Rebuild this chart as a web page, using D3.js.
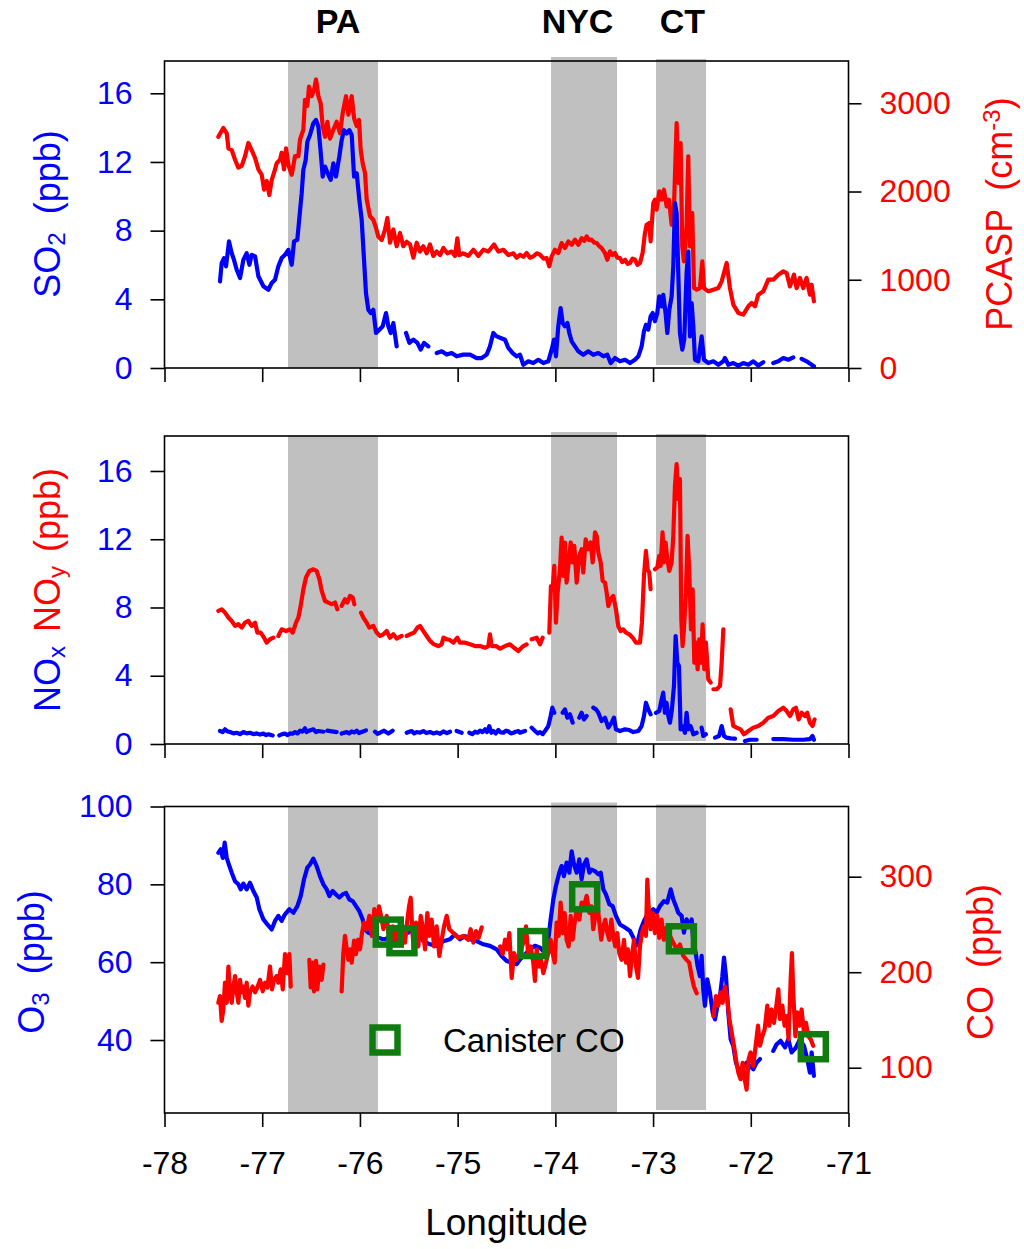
<!DOCTYPE html>
<html>
<head>
<meta charset="utf-8">
<script src="https://cdn.jsdelivr.net/npm/d3@7"></script>
<style>
  body { margin: 0; background: #fff; }
  svg { display: block; }
  text { font-family: "Liberation Sans", Arial, Helvetica, sans-serif; }
</style>
</head>
<body>
<svg id="chart" width="1024" height="1249"></svg>
<script>
// ---- axis ticks ----
const lonTicks = [-78, -77, -76, -75, -74, -73, -72, -71];
const so2Ticks = [0, 4, 8, 12, 16];
const pcaspTicks = [0, 1000, 2000, 3000];
const noTicks = [0, 4, 8, 12, 16];
const o3Ticks = [40, 60, 80, 100];
const coTicks = [100, 200, 300];

// ---- urban plume regions (longitude bounds) ----
const regionNames = ["PA", "NYC", "CT"];
const regionWest = [-76.736, -74.044, -72.970];
const regionEast = [-75.815, -73.369, -72.458];
const regionLabelLon = [-76.224, -73.773, -72.700];

// ---- flight data: [longitude, value]; null marks a data gap ----
const pcasp = [
  [-77.449,2620],[-77.398,2720],[-77.363,2660],[-77.346,2490],[-77.312,2470],[-77.278,2360],[-77.244,2270],[-77.210,2290],[-77.176,2400],[-77.142,2550],[-77.108,2470],[-77.073,2380],[-77.039,2250],[-77.005,2190],[-76.981,2020],[-76.954,2120],[-76.927,1960],[-76.903,2130],[-76.869,2250],[-76.852,2320],[-76.818,2360],[-76.801,2440],[-76.777,2250],[-76.756,2490],[-76.732,2300],[-76.698,2190],[-76.664,2400],[-76.630,2400],[-76.613,2590],[-76.579,2700],[-76.562,3040],[-76.538,2970],[-76.521,3190],[-76.494,3080],[-76.470,3150],[-76.449,3270],[-76.425,3080],[-76.402,3000],[-76.381,2740],[-76.357,2620],[-76.333,2790],[-76.306,2600],[-76.272,2700],[-76.238,2790],[-76.204,2660],[-76.176,2890],[-76.142,3080],[-76.118,2870],[-76.084,3080],[-76.060,2830],[-76.033,2740],[-76.009,2810],[-75.992,2470],[-75.972,2320],[-75.948,2210],[-75.931,1910],[-75.897,1720],[-75.863,1680],[-75.839,1600],[-75.812,1490],[-75.777,1450],[-75.743,1570],[-75.719,1700],[-75.692,1420],[-75.658,1570],[-75.624,1380],[-75.590,1530],[-75.556,1380],[-75.521,1430],[-75.487,1400],[-75.453,1250],[-75.419,1420],[-75.385,1320],[-75.351,1380],[-75.317,1300],[-75.283,1400],[-75.249,1270],[-75.215,1320],[-75.180,1280],[-75.146,1360],[-75.105,1300],[-75.061,1320],[-75.027,1270],[-75.003,1470],[-74.983,1280],[-74.942,1300],[-74.891,1270],[-74.839,1340],[-74.788,1270],[-74.737,1340],[-74.686,1320],[-74.628,1400],[-74.584,1320],[-74.532,1340],[-74.481,1280],[-74.430,1300],[-74.396,1250],
  [-74.362,1284],[-74.328,1260],[-74.294,1303],[-74.260,1250],[-74.226,1265],[-74.190,1300],[-74.157,1284],[-74.120,1240],[-74.089,1246],[-74.062,1152],[-74.038,1265],[-74.004,1340],[-73.970,1303],[-73.936,1416],[-73.902,1359],[-73.867,1435],[-73.833,1397],[-73.799,1454],[-73.765,1397],[-73.731,1472],[-73.705,1440],[-73.680,1491],[-73.655,1450],[-73.629,1454],[-73.600,1420],[-73.577,1416],[-73.550,1380],[-73.526,1359],[-73.492,1303],[-73.468,1227],[-73.441,1322],[-73.415,1280],[-73.390,1303],[-73.365,1250],[-73.339,1246],[-73.315,1200],[-73.287,1227],[-73.260,1180],[-73.236,1190],[-73.210,1240],[-73.185,1227],[-73.160,1170],[-73.134,1190],[-73.107,1303],[-73.083,1529],[-73.066,1624],[-73.039,1643],[-73.025,1435],[-72.998,1869],[-72.981,1907],[-72.964,1794],[-72.936,2001],[-72.912,1907],[-72.889,2020],[-72.861,1832],[-72.837,1907],[-72.810,1624],[-72.786,1832],[-72.759,2775],[-72.738,2096],[-72.718,2549],[-72.701,1378],[-72.684,1209],[-72.657,1605],[-72.640,2398],[-72.622,1378],[-72.599,1756],[-72.581,906],[-72.554,888],[-72.520,906],[-72.496,1209],[-72.479,906],[-72.435,869],[-72.383,888],[-72.332,906],[-72.298,982],[-72.247,1190],[-72.213,906],[-72.179,718],[-72.128,624],[-72.077,605],[-72.025,699],[-71.991,737],[-71.957,699],[-71.923,831],[-71.872,869],[-71.821,1001],[-71.770,1001],[-71.718,1058],[-71.667,1095],[-71.633,1076],[-71.599,925],[-71.558,1058],[-71.531,906],[-71.497,1020],[-71.463,906],[-71.429,1020],[-71.395,831],[-71.377,944],[-71.354,756]
];

const so2 = [
  [-77.432,5.04],[-77.415,6.11],[-77.391,6.40],[-77.370,5.92],[-77.340,7.37],[-77.312,6.69],[-77.289,6.30],[-77.261,5.72],[-77.227,5.24],[-77.193,6.30],[-77.159,6.69],[-77.131,6.01],[-77.108,6.59],[-77.073,6.50],[-77.039,5.34],[-76.988,4.76],[-76.937,4.56],[-76.903,4.95],[-76.869,5.14],[-76.835,5.92],[-76.801,6.40],[-76.767,6.59],[-76.733,6.88],[-76.698,6.01],[-76.674,7.37],[-76.641,7.46],[-76.620,8.73],[-76.596,10.18],[-76.579,11.54],[-76.555,12.12],[-76.538,13.18],[-76.511,13.57],[-76.477,14.25],[-76.449,14.45],[-76.425,14.06],[-76.402,12.60],[-76.381,11.15],[-76.357,11.73],[-76.323,11.25],[-76.299,10.96],[-76.272,11.92],[-76.245,11.15],[-76.211,12.31],[-76.187,13.27],[-76.163,13.85],[-76.135,13.66],[-76.108,13.85],[-76.084,13.57],[-76.060,11.15],[-76.033,11.34],[-76.006,9.79],[-75.982,8.63],[-75.958,6.30],[-75.938,4.36],[-75.914,3.39],[-75.890,3.20],[-75.863,3.39],[-75.835,2.04],[-75.801,2.23],[-75.767,2.43],[-75.733,3.20],[-75.709,2.43],[-75.685,2.04],[-75.658,2.62],[-75.624,1.26],[-75.600,null],[-75.528,2.04],[-75.494,1.46],[-75.453,1.65],[-75.412,1.46],[-75.378,1.07],[-75.344,1.46],[-75.300,1.26],[-75.260,null],[-75.214,0.87],[-75.163,0.97],[-75.112,0.78],[-75.061,0.87],[-75.010,0.68],[-74.942,0.78],[-74.873,0.78],[-74.805,0.58],[-74.754,0.58],[-74.703,0.78],[-74.669,1.26],[-74.635,2.04],[-74.601,1.84],[-74.560,1.75],[-74.515,1.65],[-74.481,1.17],[-74.437,0.87],[-74.396,0.68],
  [-74.362,0.77],[-74.328,0.19],[-74.277,0.39],[-74.226,0.29],[-74.174,0.48],[-74.123,0.29],[-74.072,0.39],[-74.038,1.07],[-74.014,1.65],[-73.994,0.68],[-73.970,2.43],[-73.946,3.49],[-73.925,2.62],[-73.902,2.43],[-73.877,2.62],[-73.857,2.04],[-73.833,1.55],[-73.799,1.26],[-73.765,0.97],[-73.714,0.77],[-73.663,0.97],[-73.612,0.77],[-73.560,0.87],[-73.509,0.68],[-73.468,0.77],[-73.434,0.29],[-73.390,0.58],[-73.339,0.39],[-73.287,0.48],[-73.236,0.29],[-73.185,0.48],[-73.151,0.68],[-73.117,1.26],[-73.093,2.14],[-73.073,2.52],[-73.049,2.23],[-73.025,3.01],[-73.004,3.20],[-72.981,2.72],[-72.957,3.20],[-72.937,4.17],[-72.912,3.59],[-72.896,4.26],[-72.872,3.20],[-72.854,2.04],[-72.834,3.39],[-72.810,4.17],[-72.793,5.91],[-72.776,9.60],[-72.759,9.02],[-72.742,5.53],[-72.725,2.04],[-72.701,1.07],[-72.681,1.65],[-72.657,5.53],[-72.640,6.78],[-72.622,1.84],[-72.605,3.78],[-72.588,2.43],[-72.571,0.48],[-72.537,0.39],[-72.503,1.84],[-72.479,0.48],[-72.435,0.29],[-72.383,0.39],[-72.332,0.19],[-72.281,0.39],[-72.264,0.58],[-72.230,0.19],[-72.179,0.29],[-72.128,0.14],[-72.077,0.29],[-72.025,0.19],[-71.974,0.39],[-71.923,0.14],[-71.872,0.34],[-71.820,null],[-71.770,0.29],[-71.718,0.39],[-71.667,0.58],[-71.616,0.48],[-71.565,0.62],[-71.520,null],[-71.480,0.53],[-71.429,0.39],[-71.377,0.19],[-71.354,0.10]
];

const noy = [
  [-77.449,7.80],[-77.415,7.89],[-77.381,7.70],[-77.346,7.41],[-77.312,7.21],[-77.278,6.92],[-77.244,7.02],[-77.210,6.82],[-77.176,7.11],[-77.142,7.21],[-77.108,6.92],[-77.073,7.11],[-77.050,6.53],[-77.016,6.53],[-76.981,6.23],[-76.954,5.94],[-76.920,6.14],[-76.886,6.23],[-76.860,null],[-76.835,6.33],[-76.801,6.72],[-76.756,6.62],[-76.715,6.72],[-76.688,6.53],[-76.654,7.11],[-76.630,7.41],[-76.606,8.10],[-76.579,9.07],[-76.552,9.76],[-76.518,10.14],[-76.477,10.24],[-76.443,10.14],[-76.415,9.66],[-76.391,8.97],[-76.357,8.38],[-76.323,8.29],[-76.289,8.19],[-76.255,8.29],[-76.231,7.89],[-76.210,null],[-76.187,8.10],[-76.153,8.48],[-76.129,8.29],[-76.101,8.68],[-76.074,8.58],[-76.057,8.19],[-76.020,null],[-75.989,7.70],[-75.965,7.41],[-75.931,7.11],[-75.904,6.82],[-75.863,6.92],[-75.829,6.53],[-75.794,6.33],[-75.761,6.43],[-75.726,6.62],[-75.692,6.23],[-75.658,6.43],[-75.624,6.18],[-75.573,6.33],[-75.550,null],[-75.521,6.33],[-75.487,6.43],[-75.446,6.53],[-75.412,6.82],[-75.385,6.92],[-75.351,6.62],[-75.317,6.33],[-75.283,6.04],[-75.242,5.84],[-75.198,5.74],[-75.163,5.84],[-75.146,6.23],[-75.112,6.14],[-75.078,6.09],[-75.044,5.94],[-75.003,6.23],[-74.976,5.94],[-74.925,5.94],[-74.873,5.84],[-74.822,5.74],[-74.771,5.74],[-74.720,5.64],[-74.686,5.74],[-74.669,6.43],[-74.652,5.74],[-74.607,5.74],[-74.566,5.59],[-74.515,5.74],[-74.464,5.84],[-74.423,5.64],[-74.379,5.45],
  [-74.362,5.55],[-74.328,5.74],[-74.294,5.84],[-74.270,null],[-74.243,6.14],[-74.191,6.23],[-74.157,5.84],[-74.130,6.23],[-74.100,null],[-74.062,6.53],[-74.045,9.26],[-74.028,9.07],[-74.011,10.44],[-73.994,7.11],[-73.977,8.87],[-73.953,10.24],[-73.936,12.10],[-73.919,9.85],[-73.902,11.81],[-73.885,9.46],[-73.867,10.44],[-73.843,11.81],[-73.823,10.64],[-73.806,11.61],[-73.782,9.46],[-73.755,11.03],[-73.731,11.42],[-73.714,10.05],[-73.690,12.00],[-73.663,11.42],[-73.639,11.81],[-73.618,10.64],[-73.594,12.40],[-73.577,12.20],[-73.560,11.22],[-73.536,10.64],[-73.516,9.56],[-73.492,9.46],[-73.475,8.87],[-73.458,8.09],[-73.434,8.48],[-73.407,8.68],[-73.380,7.89],[-73.356,6.91],[-73.332,6.62],[-73.305,6.72],[-73.277,6.53],[-73.243,6.43],[-73.209,6.23],[-73.175,5.94],[-73.134,5.94],[-73.114,7.11],[-73.093,9.85],[-73.073,11.32],[-73.056,10.24],[-73.039,10.05],[-73.025,9.07],[-73.000,null],[-72.981,10.24],[-72.957,10.34],[-72.937,11.03],[-72.923,10.44],[-72.903,12.40],[-72.889,10.64],[-72.872,11.81],[-72.854,10.83],[-72.834,10.14],[-72.810,10.64],[-72.793,12.20],[-72.776,15.13],[-72.759,16.40],[-72.742,14.35],[-72.725,15.52],[-72.711,7.30],[-72.698,5.74],[-72.684,6.72],[-72.664,8.87],[-72.647,12.20],[-72.630,10.24],[-72.612,6.72],[-72.595,9.07],[-72.578,4.77],[-72.561,5.94],[-72.544,4.38],[-72.527,6.14],[-72.510,4.77],[-72.493,7.01],[-72.476,4.38],[-72.459,5.94],[-72.435,3.79],[-72.411,3.60],[-72.400,null],[-72.383,3.21],[-72.349,3.21],[-72.315,3.40],[-72.298,4.77],[-72.281,6.72],[-72.240,null],[-72.206,2.03],[-72.179,1.06],[-72.145,0.96],[-72.104,0.86],[-72.070,0.57],[-72.025,0.76],[-71.974,0.96],[-71.923,1.06],[-71.872,1.25],[-71.821,1.54],[-71.770,1.64],[-71.718,1.93],[-71.667,2.13],[-71.633,1.93],[-71.599,1.64],[-71.565,2.03],[-71.538,2.13],[-71.510,1.44],[-71.480,1.83],[-71.446,1.64],[-71.422,1.83],[-71.395,1.25],[-71.368,1.06],[-71.347,1.44]
];

const nox = [
  [-77.432,0.76],[-77.405,0.70],[-77.381,0.86],[-77.355,0.74],[-77.329,0.70],[-77.295,0.62],[-77.261,0.66],[-77.227,0.58],[-77.193,0.70],[-77.159,0.62],[-77.125,0.66],[-77.090,0.58],[-77.056,0.62],[-77.022,0.55],[-76.988,0.61],[-76.960,0.52],[-76.937,0.57],[-76.893,0.50],[-76.870,null],[-76.825,0.50],[-76.795,0.58],[-76.767,0.61],[-76.740,0.52],[-76.715,0.62],[-76.690,0.60],[-76.664,0.70],[-76.640,0.62],[-76.613,0.78],[-76.590,0.72],[-76.562,0.92],[-76.545,0.70],[-76.528,0.76],[-76.500,0.82],[-76.477,0.86],[-76.450,0.70],[-76.425,0.76],[-76.374,0.72],[-76.360,null],[-76.333,0.78],[-76.289,0.74],[-76.238,0.70],[-76.210,null],[-76.187,0.61],[-76.160,0.66],[-76.135,0.70],[-76.110,0.62],[-76.084,0.74],[-76.060,0.68],[-76.033,0.78],[-76.010,0.64],[-75.982,0.70],[-75.938,0.80],[-75.900,null],[-75.846,0.72],[-75.820,0.60],[-75.794,0.66],[-75.753,0.78],[-75.709,0.61],[-75.665,0.78],[-75.620,null],[-75.521,0.66],[-75.495,0.72],[-75.470,0.76],[-75.445,0.62],[-75.419,0.70],[-75.385,0.66],[-75.351,0.76],[-75.320,0.64],[-75.283,0.70],[-75.250,0.62],[-75.215,0.68],[-75.180,0.60],[-75.146,0.74],[-75.110,0.64],[-75.078,0.72],[-75.040,null],[-75.010,0.76],[-74.959,0.66],[-74.930,null],[-74.880,0.66],[-74.850,0.58],[-74.822,0.72],[-74.795,0.66],[-74.771,0.78],[-74.745,0.70],[-74.720,0.86],[-74.700,0.70],[-74.676,1.04],[-74.655,0.66],[-74.635,0.76],[-74.610,0.62],[-74.584,0.82],[-74.560,0.68],[-74.532,0.66],[-74.505,0.78],[-74.481,0.74],[-74.455,0.62],[-74.430,0.66],[-74.405,0.72],[-74.379,0.76],
  [-74.362,0.66],[-74.311,0.76],[-74.280,null],[-74.243,0.96],[-74.208,0.76],[-74.180,0.62],[-74.157,0.70],[-74.130,0.58],[-74.106,0.76],[-74.072,1.05],[-74.048,1.64],[-74.031,2.13],[-74.011,1.83],[-73.970,null],[-73.925,1.83],[-73.902,2.03],[-73.877,1.54],[-73.850,1.74],[-73.823,1.25],[-73.790,null],[-73.755,1.54],[-73.731,1.83],[-73.707,1.44],[-73.680,1.64],[-73.650,null],[-73.612,2.13],[-73.584,2.03],[-73.560,1.83],[-73.526,1.34],[-73.492,1.54],[-73.458,0.96],[-73.424,1.25],[-73.400,1.54],[-73.380,0.86],[-73.339,0.76],[-73.287,0.86],[-73.243,0.82],[-73.202,0.70],[-73.151,0.76],[-73.117,1.05],[-73.093,1.64],[-73.073,2.42],[-73.049,2.03],[-73.025,1.74],[-73.000,null],[-72.971,1.83],[-72.937,1.93],[-72.912,2.62],[-72.896,3.01],[-72.879,1.83],[-72.862,2.42],[-72.844,1.64],[-72.827,1.25],[-72.807,2.03],[-72.786,3.40],[-72.769,6.33],[-72.752,4.77],[-72.735,4.57],[-72.718,0.86],[-72.698,1.05],[-72.674,0.66],[-72.657,1.83],[-72.640,0.86],[-72.616,1.05],[-72.588,0.57],[-72.554,0.66],[-72.530,null],[-72.503,0.96],[-72.486,0.47],[-72.459,0.57],[-72.420,null],[-72.366,0.37],[-72.325,0.47],[-72.298,1.05],[-72.274,0.47],[-72.247,0.37],[-72.206,0.33],[-72.162,0.31],[-72.110,null],[-72.060,0.18],[-72.009,0.25],[-71.940,0.25],[-71.850,null],[-71.770,0.29],[-71.667,0.29],[-71.565,0.25],[-71.463,0.25],[-71.395,0.29],[-71.368,0.47],[-71.354,0.25]
];

const o3 = [
  [-77.449,88.1],[-77.425,89.0],[-77.404,86.8],[-77.384,90.7],[-77.363,86.8],[-77.336,84.7],[-77.312,83.0],[-77.278,80.8],[-77.244,80.0],[-77.220,78.7],[-77.193,80.2],[-77.159,78.7],[-77.125,80.4],[-77.091,78.3],[-77.056,76.6],[-77.029,73.6],[-76.988,71.0],[-76.947,69.7],[-76.903,68.4],[-76.869,70.6],[-76.835,71.9],[-76.801,70.6],[-76.767,72.3],[-76.722,73.6],[-76.681,72.7],[-76.640,74.4],[-76.606,77.0],[-76.572,81.3],[-76.538,84.3],[-76.511,85.1],[-76.477,86.6],[-76.443,84.7],[-76.409,82.1],[-76.374,80.0],[-76.340,78.7],[-76.313,77.0],[-76.279,78.3],[-76.245,77.4],[-76.211,76.6],[-76.177,77.4],[-76.142,77.8],[-76.108,76.1],[-76.074,75.7],[-76.040,74.4],[-76.006,73.1],[-75.972,71.0],[-75.948,68.4],[-75.914,67.6],[-75.880,67.2],[-75.846,66.7],[-75.812,66.3],[-75.778,66.0],[-75.743,65.9],[-75.709,66.3],[-75.675,65.9],[-75.641,65.4],[-75.607,66.3],[-75.573,67.2],[-75.539,68.0],[-75.505,67.6],[-75.470,68.4],[-75.436,68.0],[-75.402,67.6],[-75.351,65.4],[-75.283,64.6],[-75.215,64.2],[-75.146,65.4],[-75.078,65.9],[-75.027,67.2],[-74.976,65.9],[-74.925,66.7],[-74.873,65.9],[-74.805,65.4],[-74.737,64.6],[-74.669,64.2],[-74.601,63.3],[-74.550,61.6],[-74.498,60.3],[-74.447,59.9],[-74.396,59.5],
  [-74.362,60.7],[-74.311,62.0],[-74.260,63.3],[-74.209,64.2],[-74.157,63.7],[-74.106,62.4],[-74.072,65.9],[-74.048,71.0],[-74.021,76.1],[-73.994,79.6],[-73.960,83.0],[-73.936,84.7],[-73.912,82.1],[-73.885,85.6],[-73.857,83.0],[-73.833,88.5],[-73.809,85.1],[-73.782,83.0],[-73.755,86.4],[-73.731,81.3],[-73.707,85.1],[-73.680,86.4],[-73.652,83.0],[-73.629,83.8],[-73.595,83.4],[-73.560,82.6],[-73.536,83.0],[-73.509,78.7],[-73.482,77.4],[-73.448,74.9],[-73.414,74.4],[-73.380,71.9],[-73.339,69.7],[-73.287,68.9],[-73.236,68.0],[-73.202,66.3],[-73.175,64.2],[-73.151,65.9],[-73.127,68.4],[-73.093,70.6],[-73.066,71.9],[-73.032,73.1],[-72.998,73.6],[-72.964,72.7],[-72.930,74.4],[-72.889,75.7],[-72.855,75.3],[-72.820,78.7],[-72.793,76.1],[-72.766,74.4],[-72.742,72.7],[-72.708,71.9],[-72.684,67.6],[-72.657,71.0],[-72.630,69.3],[-72.605,71.0],[-72.588,65.0],[-72.564,62.4],[-72.544,59.0],[-72.520,56.4],[-72.503,61.6],[-72.486,53.0],[-72.469,48.8],[-72.445,55.6],[-72.418,52.2],[-72.390,47.0],[-72.366,45.3],[-72.342,48.8],[-72.315,51.3],[-72.291,56.4],[-72.274,61.2],[-72.254,56.4],[-72.230,47.0],[-72.206,40.2],[-72.179,38.5],[-72.152,34.2],[-72.128,32.5],[-72.094,30.3],[-72.070,33.3],[-72.043,34.2],[-72.009,33.3],[-71.974,32.5],[-71.940,34.2],[-71.906,35.1],[-71.840,null],[-71.770,37.2],[-71.736,38.9],[-71.695,39.8],[-71.650,38.1],[-71.616,40.2],[-71.582,36.8],[-71.540,38.0],[-71.497,40.2],[-71.456,38.5],[-71.422,35.1],[-71.395,31.6],[-71.377,36.8],[-71.354,30.8]
];

const co = [
  [-77.449,168],[-77.432,175],[-77.415,149],[-77.398,161],[-77.381,189],[-77.363,168],[-77.346,206],[-77.329,179],[-77.312,168],[-77.295,185],[-77.278,196],[-77.261,179],[-77.244,168],[-77.227,192],[-77.210,179],[-77.193,185],[-77.176,173],[-77.159,189],[-77.142,165],[-77.125,179],[-77.098,185],[-77.073,179],[-77.050,184],[-77.022,192],[-76.995,180],[-76.971,189],[-76.947,184],[-76.920,206],[-76.900,182],[-76.879,192],[-76.852,196],[-76.835,189],[-76.811,203],[-76.790,182],[-76.767,219],[-76.743,199],[-76.722,219],[-76.708,185],[-76.650,null],[-76.518,213],[-76.504,184],[-76.484,210],[-76.470,180],[-76.449,212],[-76.436,182],[-76.415,206],[-76.391,192],[-76.374,208],[-76.300,null],[-76.187,180],[-76.170,220],[-76.153,238],[-76.135,224],[-76.118,213],[-76.101,224],[-76.084,210],[-76.060,233],[-76.040,219],[-76.019,234],[-75.999,224],[-75.979,241],[-75.958,252],[-75.931,245],[-75.904,259],[-75.877,238],[-75.853,266],[-75.829,248],[-75.805,269],[-75.784,259],[-75.760,245],[-75.726,259],[-75.692,227],[-75.665,248],[-75.641,234],[-75.617,245],[-75.590,231],[-75.563,248],[-75.539,231],[-75.514,255],[-75.497,269],[-75.480,278],[-75.463,241],[-75.446,224],[-75.426,252],[-75.402,227],[-75.378,259],[-75.358,248],[-75.334,224],[-75.310,262],[-75.290,238],[-75.266,255],[-75.242,227],[-75.215,248],[-75.187,217],[-75.163,234],[-75.139,248],[-75.112,259],[-75.085,245],[-75.044,241],[-74.993,236],[-74.942,238],[-74.891,234],[-74.867,245],[-74.839,231],[-74.812,243],[-74.785,236],[-74.754,247],[-74.660,null],[-74.566,227],[-74.539,219],[-74.515,234],[-74.492,224],[-74.471,241],[-74.447,194],[-74.423,220],[-74.396,213],
  [-74.362,220],[-74.328,231],[-74.300,248],[-74.277,217],[-74.253,227],[-74.226,210],[-74.209,191],[-74.191,224],[-74.167,206],[-74.147,213],[-74.123,199],[-74.096,210],[-74.072,220],[-74.048,234],[-74.028,220],[-74.007,210],[-73.987,252],[-73.966,238],[-73.946,273],[-73.925,241],[-73.905,262],[-73.885,234],[-73.864,227],[-73.843,259],[-73.823,234],[-73.802,252],[-73.782,266],[-73.755,255],[-73.731,273],[-73.707,269],[-73.680,280],[-73.652,262],[-73.629,269],[-73.612,245],[-73.591,259],[-73.571,273],[-73.550,252],[-73.530,234],[-73.509,248],[-73.489,255],[-73.468,241],[-73.448,234],[-73.427,255],[-73.407,238],[-73.387,227],[-73.366,241],[-73.346,220],[-73.322,213],[-73.298,234],[-73.277,210],[-73.257,224],[-73.236,196],[-73.216,217],[-73.195,234],[-73.175,206],[-73.154,194],[-73.134,227],[-73.114,241],[-73.093,248],[-73.073,238],[-73.059,297],[-73.046,269],[-73.025,245],[-73.004,262],[-72.981,241],[-72.957,259],[-72.937,236],[-72.913,255],[-72.889,234],[-72.862,247],[-72.827,238],[-72.793,231],[-72.759,224],[-72.725,229],[-72.691,217],[-72.657,213],[-72.630,210],[-72.606,196],[-72.582,185],[-72.554,178],[-72.470,null],[-72.383,154],[-72.356,175],[-72.332,165],[-72.308,179],[-72.288,168],[-72.264,185],[-72.240,172],[-72.219,151],[-72.196,137],[-72.172,123],[-72.152,109],[-72.128,95],[-72.104,88],[-72.084,105],[-72.063,88],[-72.043,77],[-72.022,109],[-72.002,116],[-71.974,102],[-71.950,123],[-71.926,144],[-71.906,123],[-71.882,133],[-71.858,140],[-71.831,165],[-71.811,144],[-71.787,161],[-71.763,147],[-71.743,161],[-71.718,182],[-71.701,151],[-71.677,165],[-71.654,144],[-71.633,154],[-71.613,130],[-71.592,192],[-71.579,220],[-71.565,178],[-71.544,133],[-71.524,158],[-71.503,144],[-71.480,161],[-71.456,137],[-71.435,147],[-71.412,133],[-71.388,130],[-71.361,123]
];

// canister CO samples
const canisterLon = [-75.71, -75.57, -74.23, -73.70, -72.71, -71.36];
const canisterCO  = [242, 233, 230, 279, 235, 122];

// ---- layout ----
const BLUE = "#0000ff", RED = "#ff0000", GREEN = "#107c10", GREY = "#c0c0c0";
const TICK_FONT = 32, TITLE_FONT = 36;
const svg = d3.select("#chart");
const x = d3.scaleLinear().domain([-78, -71]).range([164.5, 848.5]);
const plain = d => String(d);

const panels = [
  { top: 61, bottom: 368, yL: [0, 17.88], yR: [0, 3479] },
  { top: 436, bottom: 744, yL: [0, 18.05], yR: null },
  { top: 806.5, bottom: 1113, yL: [21.25, 100], yR: [52.6, 373.5] }
];
panels.forEach(p => {
  p.left = d3.scaleLinear().domain(p.yL).range([p.bottom, p.top]);
  if (p.yR) p.right = d3.scaleLinear().domain(p.yR).range([p.bottom, p.top]);
});

// band vertical overhang per region (top, bottom) in px
const bandTrim = [[0, 0], [-4, 0], [-2, -3]];

// ---- shaded regions ----
panels.forEach(p => {
  svg.append("g").selectAll("rect")
    .data(regionNames.map((n, i) => i))
    .join("rect")
    .attr("x", i => x(regionWest[i]))
    .attr("width", i => x(regionEast[i]) - x(regionWest[i]))
    .attr("y", i => p.top + bandTrim[i][0])
    .attr("height", i => p.bottom - p.top - bandTrim[i][0] + bandTrim[i][1])
    .attr("fill", GREY);
});

// ---- lines ----
function drawLine(data, yScale, color) {
  const line = d3.line()
    .defined(d => d[1] !== null)
    .x(d => x(d[0]))
    .y(d => yScale(d[1]));
  svg.append("path")
    .datum(data)
    .attr("d", line)
    .attr("fill", "none")
    .attr("stroke", color)
    .attr("stroke-width", 4.2)
    .attr("stroke-linejoin", "round")
    .attr("stroke-linecap", "round");
}
drawLine(pcasp, panels[0].right, RED);
drawLine(so2, panels[0].left, BLUE);
drawLine(noy, panels[1].left, RED);
drawLine(nox, panels[1].left, BLUE);
drawLine(o3, panels[2].left, BLUE);
drawLine(co, panels[2].right, RED);

// ---- frames and axes ----
function styleAxis(g, color) {
  g.select(".domain").remove();
  g.selectAll(".tick line").attr("stroke", "#000").attr("stroke-width", 1.6);
  g.selectAll(".tick text").attr("fill", color).attr("font-size", TICK_FONT)
    .attr("font-family", '"Liberation Sans", Arial, sans-serif');
}

const leftTicks = [so2Ticks, noTicks, o3Ticks];
const rightTicks = [pcaspTicks, null, coTicks];
panels.forEach((p, i) => {
  svg.append("rect")
    .attr("x", x(-78)).attr("y", p.top)
    .attr("width", x(-71) - x(-78)).attr("height", p.bottom - p.top)
    .attr("fill", "none").attr("stroke", "#000").attr("stroke-width", 1.6);

  svg.append("g").attr("transform", `translate(${x(-78)},0)`)
    .call(d3.axisLeft(p.left).tickValues(leftTicks[i]).tickSize(14).tickPadding(18).tickFormat(plain))
    .call(g => styleAxis(g, BLUE));

  if (p.right) {
    svg.append("g").attr("transform", `translate(${x(-71)},0)`)
      .call(d3.axisRight(p.right).tickValues(rightTicks[i]).tickSize(13).tickPadding(18).tickFormat(plain))
      .call(g => styleAxis(g, RED));
  }

  const bx = d3.axisBottom(x).tickValues(lonTicks).tickSize(14).tickPadding(24)
    .tickFormat(i < 2 ? () => "" : plain);
  svg.append("g").attr("transform", `translate(0,${p.bottom})`)
    .call(bx)
    .call(g => styleAxis(g, "#000"));
});

// ---- region labels ----
svg.append("g").selectAll("text")
  .data(regionNames)
  .join("text")
  .attr("x", (d, i) => x(regionLabelLon[i]))
  .attr("y", 33)
  .attr("text-anchor", "middle")
  .attr("font-size", 34)
  .attr("font-weight", "bold")
  .attr("fill", "#000")
  .text(d => d);

// ---- axis titles ----
function vTitle(cx, cy, parts) {
  const t = svg.append("text")
    .attr("transform", `translate(${cx},${cy}) rotate(-90)`)
    .attr("text-anchor", "middle")
    .attr("font-size", TITLE_FONT);
  parts.forEach(pt => {
    const s = t.append("tspan").attr("fill", pt.c).text(pt.t);
    if (pt.sub) s.attr("font-size", 24).attr("baseline-shift", "-22%");
    if (pt.sup) s.attr("font-size", 24).attr("baseline-shift", "48%");
    if (pt.dx) s.attr("dx", pt.dx);
  });
}
vTitle(60, 214, [
  { t: "SO", c: BLUE }, { t: "2", c: BLUE, sub: true }, { t: "(ppb)", c: BLUE, dx: 18 }
]);
vTitle(1012, 214, [
  { t: "PCASP", c: RED }, { t: "(cm", c: RED, dx: 18 }, { t: "-3", c: RED, sup: true }, { t: ")", c: RED }
]);
vTitle(60, 590, [
  { t: "NO", c: BLUE }, { t: "x", c: BLUE, sub: true },
  { t: "NO", c: RED, dx: 14 }, { t: "y", c: RED, sub: true }, { t: "(ppb)", c: RED, dx: 14 }
]);
vTitle(44, 962, [
  { t: "O", c: BLUE }, { t: "3", c: BLUE, sub: true }, { t: "(ppb)", c: BLUE, dx: 18 }
]);
vTitle(993, 962, [
  { t: "CO", c: RED }, { t: "(ppb)", c: RED, dx: 18 }
]);

svg.append("text")
  .attr("x", x(-74.5)).attr("y", 1235)
  .attr("text-anchor", "middle")
  .attr("font-size", TITLE_FONT + 1)
  .attr("fill", "#000")
  .text("Longitude");

// ---- canister CO markers ----
const SQ = 25;
svg.append("g").selectAll("rect")
  .data(canisterLon.map((lon, i) => [lon, canisterCO[i]]))
  .join("rect")
  .attr("x", d => x(d[0]) - SQ / 2)
  .attr("y", d => panels[2].right(d[1]) - SQ / 2)
  .attr("width", SQ).attr("height", SQ)
  .attr("fill", "none").attr("stroke", GREEN).attr("stroke-width", 6.5);

// legend
const legend = svg.append("g").attr("transform", "translate(385,1040)");
legend.append("rect")
  .attr("x", -SQ / 2).attr("y", -SQ / 2).attr("width", SQ).attr("height", SQ)
  .attr("fill", "none").attr("stroke", GREEN).attr("stroke-width", 6.5);
legend.append("text")
  .attr("x", 58).attr("y", 12)
  .attr("font-size", 33).attr("fill", "#000")
  .text("Canister CO");
</script>
</body>
</html>
